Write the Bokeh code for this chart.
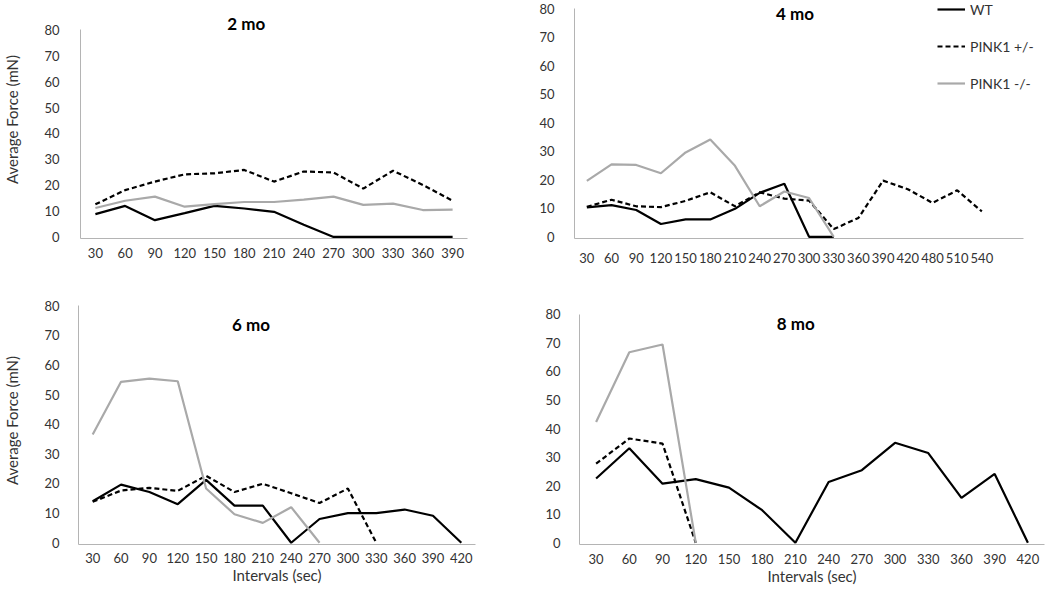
from bokeh.plotting import figure
from bokeh.layouts import column, row
from bokeh.models import FixedTicker, Label, Legend, LegendItem, Range1d
from bokeh.embed import file_html
from bokeh.resources import INLINE

FONT = "Lato"
y_ticks = [0, 10, 20, 30, 40, 50, 60, 70, 80]
series_names = ["WT", "PINK1 +/-", "PINK1 -/-"]

cats_2mo = [30, 60, 90, 120, 150, 180, 210, 240, 270, 300, 330, 360, 390]
wt_2mo = [8.8, 12.0, 6.5, 9.2, 12.0, 11.0, 9.7, 4.7, 0, 0, 0, 0, 0]
het_2mo = [12.6, 18.1, 21.4, 24.2, 24.6, 25.9, 21.4, 25.3, 24.9, 18.7, 25.6, 20.1, 14.0]
ko_2mo = [11.2, 14.0, 15.6, 11.7, 12.7, 13.5, 13.5, 14.4, 15.6, 12.4, 12.9, 10.4, 10.6]

cats_4mo = [30, 60, 90, 120, 150, 180, 210, 240, 270, 300, 330, 360, 390, 420, 480, 510, 540]
wt_4mo = [10.3, 11.1, 9.4, 4.5, 6.1, 6.1, 9.8, 15.4, 18.6, 0, 0]
het_4mo = [10.5, 13.0, 10.7, 10.4, 12.6, 15.6, 10.7, 15.6, 13.4, 12.7, 2.7, 6.6, 19.7, 16.7, 11.9, 16.3, 8.9]
ko_4mo = [19.6, 25.4, 25.2, 22.3, 29.6, 34.1, 24.9, 10.7, 15.9, 13.6, 0]

cats_6mo = [30, 60, 90, 120, 150, 180, 210, 240, 270, 300, 330, 360, 390, 420]
wt_6mo = [14.0, 19.6, 17.1, 13.0, 21.2, 12.5, 12.5, 0, 8.0, 10.0, 10.0, 11.2, 9.1, 0]
het_6mo = [13.8, 17.6, 18.5, 17.5, 22.6, 17.1, 19.9, 16.7, 13.4, 18.3, 0]
ko_6mo = [36.5, 54.3, 55.4, 54.5, 18.3, 9.6, 6.7, 12.0, 0]

cats_8mo = [30, 60, 90, 120, 150, 180, 210, 240, 270, 300, 330, 360, 390, 420]
wt_8mo = [22.5, 33.1, 20.7, 22.3, 19.3, 11.4, 0, 21.3, 25.4, 35.0, 31.4, 15.7, 24.1, 0]
het_8mo = [27.7, 36.5, 34.7, 0]
ko_8mo = [42.3, 66.7, 69.4, 0]

AXIS_COLOR = "#b4b4b4"
TEXT_COLOR = "#333333"
Y0 = -0.6


def panel(cats, wt, het, ko, title, tx, ty, width, height, borders, x_end,
          x_bound, y_end, x_standoff, y_standoff, ylabel=None, xlabel=None,
          legend_loc=None):
    left, right, top, bottom = borders
    p = figure(width=width, height=height, output_backend="svg", toolbar_location=None,
               x_range=Range1d(-0.5, x_end), y_range=Range1d(Y0, y_end),
               min_border_left=left, min_border_right=right,
               min_border_top=top, min_border_bottom=bottom,
               outline_line_color=None, background_fill_color="white",
               border_fill_color="white")
    p.grid.visible = False
    idx = list(range(len(cats)))
    r_wt = p.line(idx[:len(wt)], wt, line_color="black", line_width=2.2)
    r_het = p.line(idx[:len(het)], het, line_color="black", line_width=2.2,
                   line_dash="5 3")
    r_ko = p.line(idx[:len(ko)], ko, line_color="#a9a9a9", line_width=2.2)

    xa = p.xaxis[0]
    xa.ticker = FixedTicker(ticks=idx)
    xa.major_label_overrides = {i: str(c) for i, c in zip(idx, cats)}
    xa.bounds = (-0.5, x_bound)
    xa.axis_line_color = AXIS_COLOR
    xa.major_tick_line_color = None
    xa.minor_tick_line_color = None
    xa.major_label_text_font = FONT
    xa.major_label_text_font_size = "13px"
    xa.major_label_text_color = TEXT_COLOR
    xa.major_label_standoff = x_standoff
    if xlabel:
        xa.axis_label = xlabel
        xa.axis_label_text_font = FONT
        xa.axis_label_text_font_size = "15px"
        xa.axis_label_text_font_style = "normal"
        xa.axis_label_text_color = TEXT_COLOR
        xa.axis_label_standoff = 0

    ya = p.yaxis[0]
    ya.ticker = FixedTicker(ticks=y_ticks)
    ya.bounds = (Y0, 80)
    ya.axis_line_color = AXIS_COLOR
    ya.major_tick_line_color = None
    ya.minor_tick_line_color = None
    ya.major_label_text_font = FONT
    ya.major_label_text_font_size = "13px"
    ya.major_label_text_color = TEXT_COLOR
    ya.major_label_standoff = y_standoff
    if ylabel:
        ya.axis_label = ylabel
        ya.axis_label_text_font = FONT
        ya.axis_label_text_font_size = "15px"
        ya.axis_label_text_font_style = "normal"
        ya.axis_label_text_color = TEXT_COLOR
        ya.axis_label_standoff = 20

    p.add_layout(Label(x=tx, y=ty, text=title, text_align="center",
                       text_baseline="middle", text_font=FONT,
                       text_font_style="bold", text_font_size="17px",
                       text_color="black"))

    if legend_loc is not None:
        items = [LegendItem(label=n, renderers=[r])
                 for n, r in zip(series_names, [r_wt, r_het, r_ko])]
        lg = Legend(items=items, location=legend_loc, padding=0, margin=0,
                    spacing=17, glyph_width=28, glyph_height=20, label_height=20,
                    label_standoff=5, label_text_font=FONT,
                    label_text_font_size="14px", label_text_color=TEXT_COLOR,
                    border_line_color=None, background_fill_alpha=0)
        p.add_layout(lg)
    return p


p1 = panel(cats_2mo, wt_2mo, het_2mo, ko_2mo, "2 mo", 5.07, 82.7,
           525, 290, (70, 58, 0, 52), 12.5, 12.5, 91.4, 3, 15,
           ylabel="Average Force (mN)")
p2 = panel(cats_4mo, wt_4mo, het_4mo, ko_4mo, "4 mo", 8.43, 78.4,
           525, 290, (49, 0, 0, 51), 18.78, 17.7, 82.9, 8, 14,
           legend_loc=(363, 145))
p3 = panel(cats_6mo, wt_6mo, het_6mo, ko_6mo, "6 mo", 5.58, 73.6,
           525, 302, (74, 50, 6, 48), 13.5, 13.5, 83.1, 2, 13,
           ylabel="Average Force (mN)", xlabel="Intervals (sec)")
p4 = panel(cats_8mo, wt_8mo, het_8mo, ko_8mo, "8 mo", 6.01, 76.9,
           525, 302, (54, 6, 6, 45), 13.5, 13.5, 86.2, 3, 13,
           xlabel="Intervals (sec)")

layout = column(row(p1, p2), row(p3, p4))
open("out.html", "w").write(file_html(layout, INLINE))
